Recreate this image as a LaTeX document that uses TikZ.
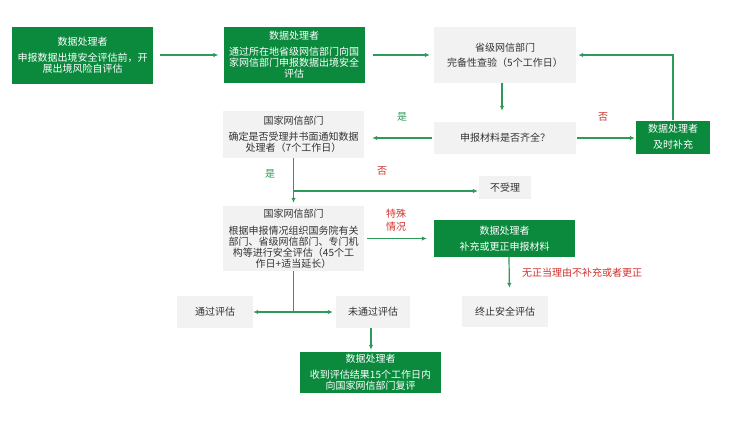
\documentclass[tikz,border=0pt]{standalone}
\usepackage{fontspec}
\newfontfamily\cjk{Noto Sans CJK SC}
\usetikzlibrary{arrows.meta}
\definecolor{boxgreen}{HTML}{0B8A3E}
\definecolor{arrgreen}{HTML}{2E9A5A}
\definecolor{boxgray}{HTML}{F2F2F2}
\definecolor{txtred}{HTML}{D0312D}
\definecolor{txtgray}{HTML}{333333}
\tikzset{
  base/.style={inner sep=0pt, align=center, font=\cjk\fontsize{10}{11}\selectfont},
  gbox/.style={base, fill=boxgreen, text=white},
  graybox/.style={base, fill=boxgray, text=txtgray},
  conn/.style={draw=arrgreen, line width=1.2pt, -{Latex[length=5pt,width=4.5pt]}},
  plain/.style={draw=arrgreen, line width=1.2pt},
  glab/.style={font=\cjk\fontsize{10}{11}\selectfont, text=arrgreen, inner sep=0pt},
  rlab/.style={font=\cjk\fontsize{10}{13}\selectfont, text=txtred, inner sep=0pt, align=center},
}
\begin{document}
\begin{tikzpicture}[x=1pt,y=-1pt]
\useasboundingbox[fill=white] (0,0) rectangle (733,439);
\node[gbox, minimum width=141pt, minimum height=57pt] (b1) at (82.5,55)
  {数据处理者\\[5pt]申报数据出境安全评估前，开\\展出境风险自评估};
\node[gbox, minimum width=141pt, minimum height=56pt] (b2) at (294,55)
  {数据处理者\\[5pt]通过所在地省级网信部门向国\\家网信部门申报数据出境安全\\评估};
\node[graybox, minimum width=142pt, minimum height=56pt] (b3) at (505,55)
  {省级网信部门\\[4pt]完备性查验（5个工作日）};
\node[graybox, minimum width=142pt, minimum height=32pt] (b4) at (505,138)
  {申报材料是否齐全？};
\node[graybox, minimum width=141pt, minimum height=47pt] (b5) at (293.5,134.5)
  {国家网信部门\\[5pt]确定是否受理并书面通知数据\\处理者（7个工作日）};
\node[gbox, minimum width=74pt, minimum height=33pt] (b6) at (673,137)
  {数据处理者\\[5pt]及时补充};
\node[graybox, minimum width=52pt, minimum height=23pt] (nb) at (505,187.5)
  {不受理};
\node[graybox, minimum width=141pt, minimum height=65pt] (b7) at (293.5,238.5)
  {国家网信部门\\[6pt]根据申报情况组织国务院有关\\部门、省级网信部门、专门机\\构等进行安全评估（45个工\\作日+适当延长）};
\node[gbox, minimum width=141pt, minimum height=37pt] (b8) at (504.5,238.5)
  {数据处理者\\[5pt]补充或更正申报材料};
\node[graybox, minimum width=86pt, minimum height=31pt] (end) at (505,311.5)
  {终止安全评估};
\node[graybox, minimum width=76pt, minimum height=32pt] (pass) at (215,312)
  {通过评估};
\node[graybox, minimum width=74pt, minimum height=32pt] (fail) at (373,312)
  {未通过评估};
\node[gbox, minimum width=141pt, minimum height=41pt] (fin) at (370.5,372.5)
  {数据处理者\\[5pt]收到评估结果15个工作日内\\向国家网信部门复评};
% connectors
\draw[conn, shorten <=7pt, shorten >=5pt] (b1.east) -- (b2.west);
\draw[conn, shorten <=8pt, shorten >=4pt] (b2.east) -- (b3.west);
\draw[conn, shorten >=11pt] ([xshift=-3pt]b3.south) -- ([xshift=-3pt]b4.north);
\draw[conn, shorten <=2pt, shorten >=8pt] (b4.west) -- (b4.west -| b5.east);
\draw[conn, shorten <=1pt, shorten >=1pt] (b4.east) -- (b4.east -| b6.west);
\draw[conn, shorten >=2pt] (b6.north) |- (b3.east);
\draw[conn, shorten >=3pt] (b5.south) -- (b7.north);
\coordinate (j1) at (293.5,191);
\draw[conn, shorten >=1pt] (j1) -- (j1 -| nb.west);
\draw[conn, shorten <=3pt, shorten >=7pt] (b7.east |- b8.west) -- (b8.west);
\draw[conn, shorten >=8pt] ([xshift=4.5pt]b8.south) -- ([xshift=4.5pt]end.north);
\coordinate (j2) at (293.5,312);
\draw[plain] (b7.south) -- (j2);
\draw[conn] (j2) -- (pass.east);
\draw[conn, shorten >=3pt] (j2) -- (fail.west);
\draw[conn, shorten >=2pt] ([xshift=-2pt]fail.south) -- ([xshift=-2pt]fail.south |- fin.north);
% labels
\node[glab] (l1) at (402,117) {是};
\node[rlab] (l2) at (603,117) {否};
\node[glab] (l3) at (270,174) {是};
\node[rlab] (l4) at (382,171) {否};
\node[rlab] (l5) at (396,220) {特殊\\情况};
\node[rlab] (l6) at (582,273) {无正当理由不补充或者更正};
\end{tikzpicture}
\end{document}
